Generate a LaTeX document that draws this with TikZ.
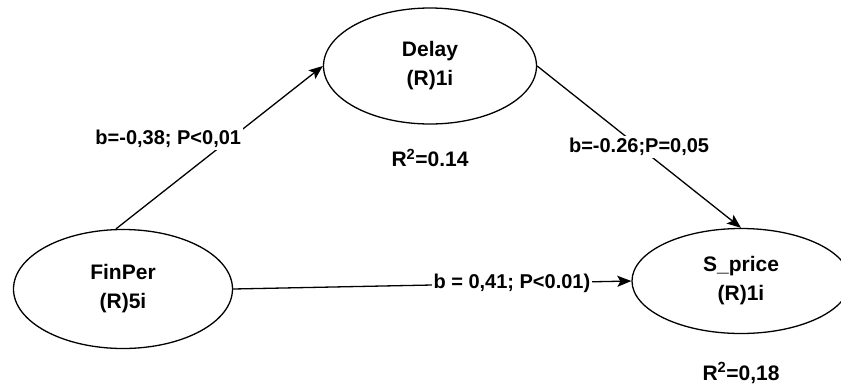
\documentclass[tikz,border=0pt]{standalone}
\usepackage{fontspec}
\setmainfont{Liberation Sans}
\usetikzlibrary{shapes.geometric, arrows.meta, positioning}

\begin{document}
\begin{tikzpicture}[
    x=1pt, y=-1pt,
    latent/.style={ellipse, draw, line width=1.3pt, minimum width=216pt, minimum height=116pt, align=center, font=\fontsize{21}{29}\selectfont\bfseries},
    coef/.style={fill=white, inner sep=2pt, font=\fontsize{20}{24}\selectfont\bfseries},
    rsq/.style={inner sep=2pt, font=\fontsize{21}{25}\selectfont\bfseries},
    arrow/.style={-{Stealth[length=14pt, width=11pt, inset=3pt]}, line width=1.3pt}
]
\clip (0,0) rectangle (841,389);

\node[latent, minimum width=219pt, minimum height=119pt] (finper) at (123,289) {FinPer\\(R)5i};
\node[latent, minimum width=213pt] (delay) at (430,66) {Delay\\(R)1i};
\node[latent, minimum width=218pt, minimum height=105pt] (sprice) at (741,281) {S\_price\\(R)1i};

\node[rsq, below=22pt of delay] (rdelay) {R\textsuperscript{2}=0.14};
\node[rsq, below=26pt of sprice] (rsprice) {R\textsuperscript{2}=0,18};

\draw[arrow] ([xshift=-7pt]finper.north) -- (delay.west)
    node[coef, pos=0.55, anchor=east, xshift=14pt] {b=-0,38; P<0,01};
\draw[arrow] (delay.east) -- (sprice.north)
    node[coef, pos=0.5] {b=-0.26;P=0,05};
\draw[arrow] (finper.east) -- (sprice.west)
    node[coef, pos=0.7] {b = 0,41; P<0.01)};

\end{tikzpicture}
\end{document}
